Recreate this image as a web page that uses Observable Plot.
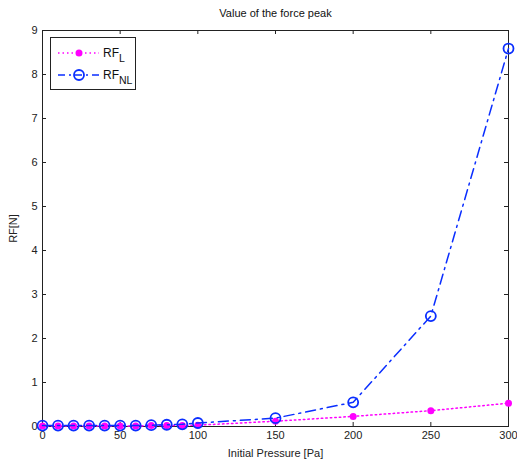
<!DOCTYPE html>
<html><head>
<meta charset="utf-8">
<script src="https://cdn.jsdelivr.net/npm/d3@7"></script>
<script src="https://cdn.jsdelivr.net/npm/@observablehq/plot@0.6"></script>
<style>
body{margin:0;background:#fff;font-family:"Liberation Sans",Arial,sans-serif}
#wrap{position:relative;width:517px;height:462px}
#legend{position:absolute;left:50px;top:37px;width:86px;height:53px;border:1px solid #222;background:#fff;box-sizing:border-box}
</style>
</head><body>
<div id="wrap"></div>
<script>
const pressure = [0,10,20,30,40,50,60,70,80,90,100,150,200,250,300];
const rfL  = [0.01,0.01,0.01,0.01,0.01,0.01,0.01,0.02,0.02,0.02,0.03,0.12,0.23,0.36,0.53];
const rfNL = [0.02,0.02,0.02,0.02,0.02,0.02,0.02,0.03,0.04,0.05,0.08,0.19,0.55,2.51,8.59];
const xTicks = [0,50,100,150,200,250,300];
const yTicks = [0,1,2,3,4,5,6,7,8,9];
const seriesNames = ["RF", "L", "NL"];
const titleText = "Value of the force peak";
const xLabel = "Initial Pressure [Pa]";
const yLabel = "RF[N]";

const W = 517, H = 462, mt = 30, mb = 36, ml = 42, mr = 9;
const ph = H - mt - mb, pw = W - ml - mr;
const dataL = pressure.map((p,i)=>({x:p,y:rfL[i]}));
const dataNL = pressure.map((p,i)=>({x:p,y:rfNL[i]}));
const magenta = "#ff00ff", blue = "#0a2eff", axisC = "#222";

const chart = Plot.plot({
  width: W, height: H,
  marginTop: mt, marginBottom: mb, marginLeft: ml, marginRight: mr,
  style: {fontFamily: '"Liberation Sans", Arial, sans-serif', fontSize: "11px", color: "#222", background: "#fff"},
  x: {domain: [0,300]},
  y: {domain: [0,9]},
  marks: [
    Plot.axisX(xTicks, {tickSize: 0, tickPadding: 5, label: xLabel, labelAnchor: "center", labelArrow: "none", labelOffset: 30, fontSize: 11}),
    Plot.axisY(yTicks, {tickSize: 0, tickPadding: 5, label: yLabel, labelAnchor: "center", labelArrow: "none", labelOffset: 33, fontSize: 11}),
    Plot.tickX(xTicks, {x: d=>d, stroke: axisC, insetTop: ph-4}),
    Plot.tickX(xTicks, {x: d=>d, stroke: axisC, insetBottom: ph-4}),
    Plot.tickY(yTicks, {y: d=>d, stroke: axisC, insetRight: pw-4}),
    Plot.tickY(yTicks, {y: d=>d, stroke: axisC, insetLeft: pw-4}),
    Plot.frame({stroke: axisC}),
    Plot.line(dataL, {x:"x", y:"y", stroke: magenta, strokeWidth: 1.5, strokeDasharray: "1.5,3"}),
    Plot.dot(dataL, {x:"x", y:"y", r: 3.5, fill: magenta}),
    Plot.line(dataNL, {x:"x", y:"y", stroke: blue, strokeWidth: 1.5, strokeDasharray: "10,5,2,5"}),
    Plot.dot(dataNL, {x:"x", y:"y", r: 5, stroke: blue, strokeWidth: 1.8, fill: "none"}),
    Plot.text([titleText], {frameAnchor: "top", dy: -21, fontSize: 11, fill: "#111"})
  ]
});
const wrap = document.getElementById("wrap");
wrap.appendChild(chart);

const leg = document.createElement("div");
leg.id = "legend";
leg.innerHTML = `<svg width="84" height="51" style="position:absolute;left:0;top:0;overflow:visible" font-family="Liberation Sans, Arial, sans-serif">
  <line x1="7" x2="48" y1="15" y2="15" stroke="${magenta}" stroke-width="1.5" stroke-dasharray="1.5,3"/>
  <circle cx="28" cy="15" r="3.5" fill="${magenta}"/>
  <text x="52" y="19" font-size="12" fill="#111">${seriesNames[0]}<tspan font-size="10.5" dy="5">${seriesNames[1]}</tspan></text>
  <line x1="7" x2="48" y1="37" y2="37" stroke="${blue}" stroke-width="1.5" stroke-dasharray="7,4,2,4"/>
  <circle cx="28" cy="37" r="5" fill="none" stroke="${blue}" stroke-width="1.8"/>
  <text x="52" y="41" font-size="12" fill="#111">${seriesNames[0]}<tspan font-size="10.5" dy="5">${seriesNames[2]}</tspan></text>
</svg>`;
wrap.appendChild(leg);
</script>
</body></html>
